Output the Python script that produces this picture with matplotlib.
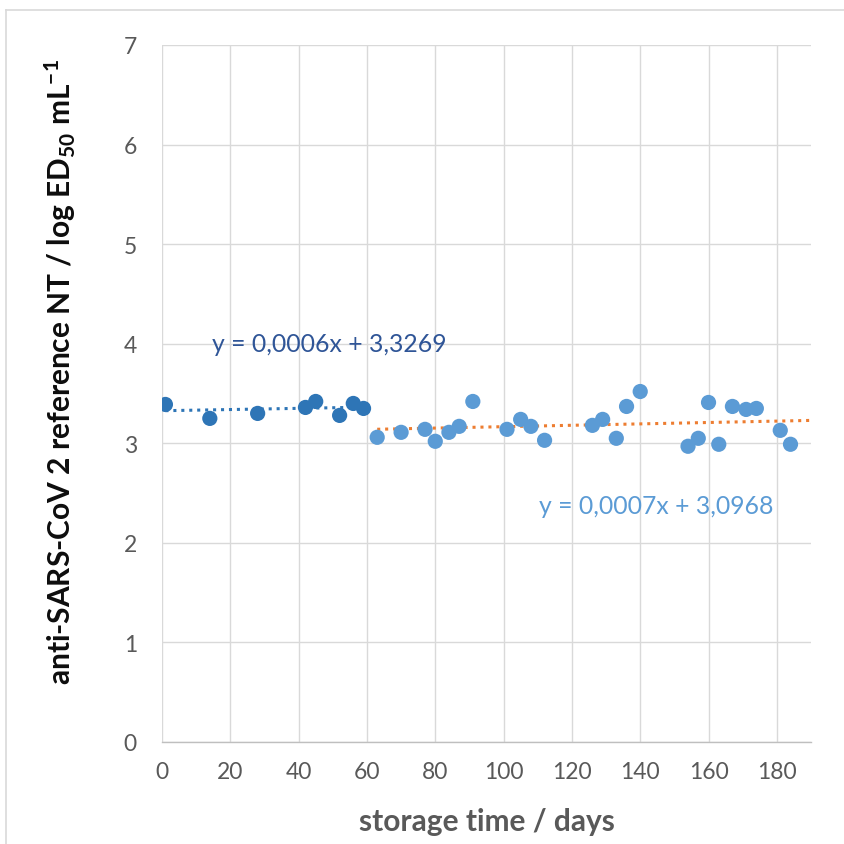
import matplotlib
matplotlib.use("Agg")
import matplotlib.pyplot as plt
import numpy as np

plt.rcParams['font.family'] = ['Lato', 'DejaVu Sans']
plt.rcParams['mathtext.fontset'] = 'custom'
plt.rcParams['mathtext.rm'] = 'Lato:bold'
plt.rcParams['mathtext.default'] = 'rm'

# Series 1 (days 0-59)
days1 = [1, 14, 28, 42, 45, 52, 56, 59]
vals1 = [3.39, 3.25, 3.30, 3.36, 3.42, 3.28, 3.40, 3.35]
# Series 2 (days 63-184)
days2 = [63, 70, 77, 80, 84, 87, 91, 101, 105, 108, 112, 126, 129, 133, 136, 140,
         154, 157, 160, 163, 167, 171, 174, 181, 184]
vals2 = [3.06, 3.11, 3.14, 3.02, 3.11, 3.17, 3.42, 3.14, 3.24, 3.17, 3.03, 3.18,
         3.24, 3.05, 3.37, 3.52, 2.97, 3.05, 3.41, 2.99, 3.37, 3.34, 3.35, 3.13, 2.99]

# Trendlines (from the printed equations)
slope1, icpt1 = 0.0006, 3.3269
slope2, icpt2 = 0.0007, 3.0968
trend1_range = [1, 59]
trend2_range = [63, 190]
eq1 = "y = 0,0006x + 3,3269"
eq2 = "y = 0,0007x + 3,0968"

xticks = list(range(0, 181, 20))
yticks = list(range(0, 8))

W = 845
fig = plt.figure(figsize=(W / 100, W / 100), dpi=100)
ax = fig.add_axes([162 / W, 1 - 743 / W, (811 - 162) / W, (743 - 46) / W])

grid_c = '#D9D9D9'
ax.set_xlim(0, 190)
ax.set_ylim(0, 7)
ax.set_xticks(xticks)
ax.set_yticks(yticks)
ax.grid(True, color=grid_c, linewidth=1.0)
ax.set_axisbelow(True)
for s in ['left', 'right', 'top']:
    ax.spines[s].set_visible(False)
ax.spines['bottom'].set_color('#BFBFBF')
ax.spines['bottom'].set_linewidth(1.0)
ax.tick_params(length=0, labelsize=16.5, labelcolor='#595959')
ax.tick_params(axis='y', pad=18)
ax.tick_params(axis='x', pad=14)

x1 = np.array(trend1_range, dtype=float)
x2 = np.array(trend2_range, dtype=float)
ax.plot(x1, slope1 * x1 + icpt1, linestyle=(0, (1, 1.6)), color='#2E75B6', linewidth=2.2, zorder=2)
ax.plot(x2, slope2 * x2 + icpt2, linestyle=(0, (1, 1.6)), color='#ED7D31', linewidth=2.2, zorder=2)

ax.scatter(days1, vals1, s=120, color='#2E75B6', zorder=3, edgecolors='none')
ax.scatter(days2, vals2, s=120, color='#5B9BD5', zorder=3, edgecolors='none')

ax.text(14.5, 4.0, eq1, fontsize=17.8, color='#2F5597', va='center', ha='left')
ax.text(110.5, 2.38, eq2, fontsize=17.8, color='#5B9BD5', va='center', ha='left')

ax.set_xlabel('storage time / days', fontsize=21.5, fontweight='bold', color='#595959', labelpad=18)
fig.text(60 / W, 1 - 372 / W, r"anti-SARS-CoV 2 reference NT / log ED$_{50}$ mL$^{-1}$",
         rotation=90, fontsize=21.5, fontweight='bold', color='#0D0D0D', ha='center', va='center')

# outer border (top and left)
fig.add_artist(plt.Line2D([6 / W, 6 / W], [0, 1 - 11 / W], transform=fig.transFigure, color='#D9D9D9', linewidth=1.2))
fig.add_artist(plt.Line2D([6 / W, 1], [1 - 11 / W, 1 - 11 / W], transform=fig.transFigure, color='#D9D9D9', linewidth=1.2))

fig.savefig('out.png', dpi=100)
